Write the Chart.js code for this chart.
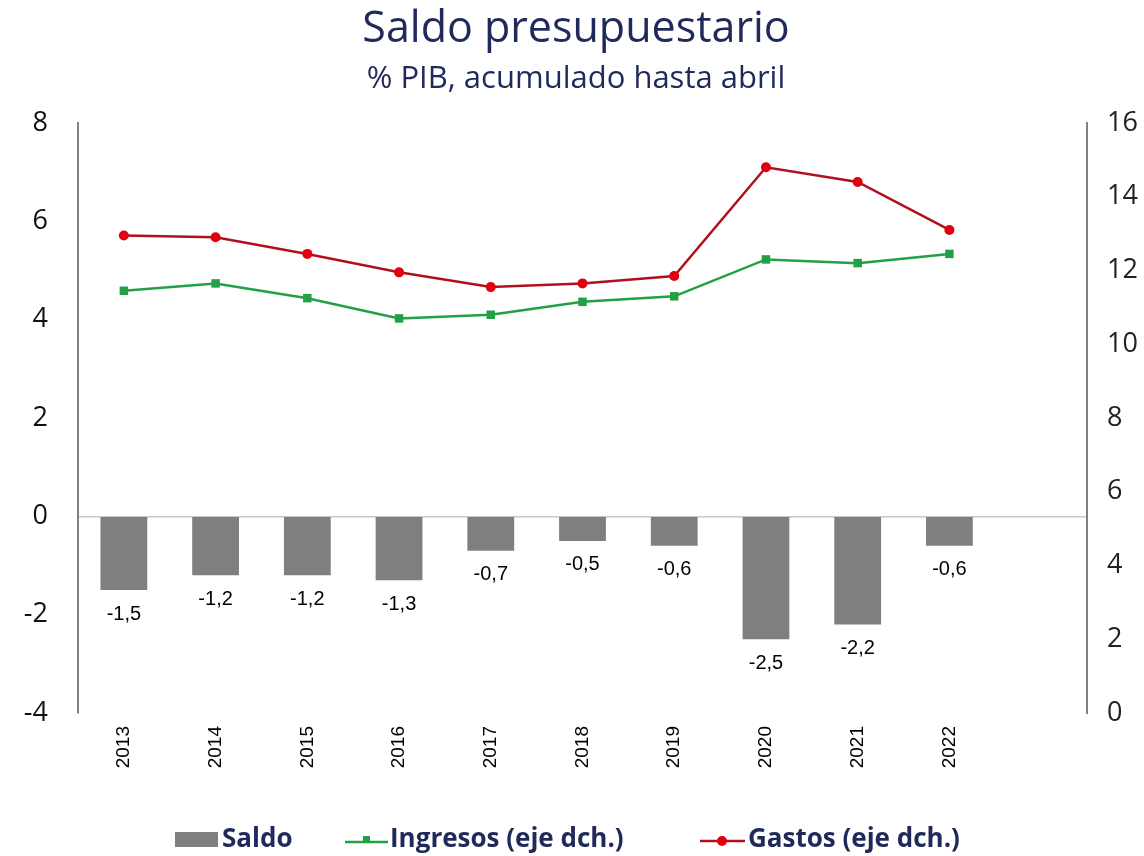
<!DOCTYPE html>
<html>
<head>
<meta charset="utf-8">
<script src="https://cdn.jsdelivr.net/npm/chart.js@4"></script>
<style>
  html, body { margin: 0; padding: 0; background: #fff; }
  #wrap { width: 1144px; height: 856px; }
</style>
</head>
<body>
<div id="wrap"><canvas id="chart" width="1144" height="856"></canvas></div>
<script>
const years = ["2013", "2014", "2015", "2016", "2017", "2018", "2019", "2020", "2021", "2022", ""]
const saldo = [-1.5, -1.2, -1.2, -1.3, -0.7, -0.5, -0.6, -2.5, -2.2, -0.6]
const ingresos = [11.45, 11.65, 11.25, 10.7, 10.8, 11.15, 11.3, 12.3, 12.2, 12.45]
const gastos = [12.95, 12.9, 12.45, 11.95, 11.55, 11.65, 11.85, 14.8, 14.4, 13.1]
const leftTicks = [-4, -2, 0, 2, 4, 6, 8]
const rightTicks = [0, 2, 4, 6, 8, 10, 12, 14, 16]

const navy = '#1f2a5a'
const textFont = '"Open Sans", "Noto Sans", sans-serif'
const arial = '"Liberation Sans", Arial, sans-serif'

// title, bar labels and legend drawn by hand
const extras = {
  id: 'extras',
  afterDraw(chart) {
    const ctx = chart.ctx
    ctx.save()
    ctx.textAlign = 'center'
    ctx.textBaseline = 'alphabetic'
    ctx.fillStyle = navy
    ctx.font = '43px ' + textFont
    ctx.fillText('Saldo presupuestario', 576, 42)
    ctx.font = '31px ' + textFont
    ctx.fillText('% PIB, acumulado hasta abril', 576, 88)

    // value labels under the bars
    const meta = chart.getDatasetMeta(0)
    ctx.font = '20px ' + arial
    ctx.fillStyle = '#000'
    ctx.textBaseline = 'top'
    meta.data.forEach((bar, i) => {
      const txt = saldo[i].toFixed(1).replace('.', ',')
      ctx.fillText(txt, bar.x, bar.y + 14)
    })

    // legend
    const base = 847
    ctx.textAlign = 'left'
    ctx.textBaseline = 'alphabetic'
    ctx.font = 'bold 26px ' + textFont
    ctx.fillStyle = '#7f7f7f'
    ctx.fillRect(175, 832, 43, 15)
    ctx.fillStyle = navy
    ctx.fillText('Saldo', 222, base)

    ctx.strokeStyle = '#22a046'
    ctx.lineWidth = 2.5
    ctx.beginPath(); ctx.moveTo(345, 842); ctx.lineTo(388, 842); ctx.stroke()
    ctx.fillStyle = '#22a046'
    ctx.fillRect(363, 836, 7, 7)
    ctx.fillStyle = navy
    ctx.fillText('Ingresos (eje dch.)', 390, base)

    ctx.strokeStyle = '#b0101c'
    ctx.beginPath(); ctx.moveTo(700, 841); ctx.lineTo(745, 841); ctx.stroke()
    ctx.fillStyle = '#e00010'
    ctx.beginPath(); ctx.arc(722, 841, 5, 0, Math.PI * 2); ctx.fill()
    ctx.fillStyle = navy
    ctx.fillText('Gastos (eje dch.)', 748, base)
    ctx.restore()
  }
}

new Chart(document.getElementById('chart'), {
  type: 'bar',
  data: {
    labels: years,
    datasets: [
      {
        type: 'bar',
        label: 'Saldo',
        data: saldo,
        yAxisID: 'y',
        backgroundColor: '#7f7f7f',
        categoryPercentage: 0.51,
        barPercentage: 1,
        order: 3
      },
      {
        type: 'line',
        label: 'Ingresos (eje dch.)',
        data: ingresos,
        yAxisID: 'y1',
        borderColor: '#22a046',
        backgroundColor: '#22a046',
        borderWidth: 2.5,
        pointStyle: 'rect',
        pointRadius: 6,
        pointBorderWidth: 0,
        tension: 0,
        order: 2
      },
      {
        type: 'line',
        label: 'Gastos (eje dch.)',
        data: gastos,
        yAxisID: 'y1',
        borderColor: '#b0101c',
        backgroundColor: '#e00010',
        borderWidth: 2.5,
        pointStyle: 'circle',
        pointRadius: 5,
        pointBorderWidth: 0,
        tension: 0,
        order: 1
      }
    ]
  },
  options: {
    responsive: false,
    animation: false,
    layout: { padding: { top: 123, left: 0, right: 0, bottom: 0 } },
    plugins: {
      legend: { display: false },
      title: { display: false },
      tooltip: { enabled: false }
    },
    scales: {
      x: {
        grid: { display: false },
        border: { display: false },
        ticks: {
          color: '#000',
          font: { family: arial, size: 19 },
          minRotation: 90,
          maxRotation: 90,
          padding: 5,
          autoSkip: false
        },
        afterFit(scale) { scale.height = 143 }
      },
      y: {
        position: 'left',
        min: -4,
        max: 8,
        afterBuildTicks(scale) { scale.ticks = leftTicks.map(v => ({ value: v })) },
        grid: {
          drawTicks: false,
          color: ctx => ctx.tick && ctx.tick.value === 0 ? '#c8c8c8' : 'rgba(0,0,0,0)',
          lineWidth: 1.5
        },
        border: { color: '#808080', width: 2 },
        ticks: {
          color: '#111',
          font: { family: textFont, size: 27 },
          padding: 30
        },
        afterFit(scale) { scale.width = 78 }
      },
      y1: {
        position: 'right',
        min: 0,
        max: 16,
        afterBuildTicks(scale) { scale.ticks = rightTicks.map(v => ({ value: v })) },
        grid: { display: false, drawTicks: false },
        border: { color: '#808080', width: 2 },
        ticks: {
          color: '#222',
          font: { family: textFont, size: 27 },
          padding: 20
        },
        afterFit(scale) { scale.width = 57 }
      }
    }
  },
  plugins: [extras]
})
</script>
</body>
</html>
